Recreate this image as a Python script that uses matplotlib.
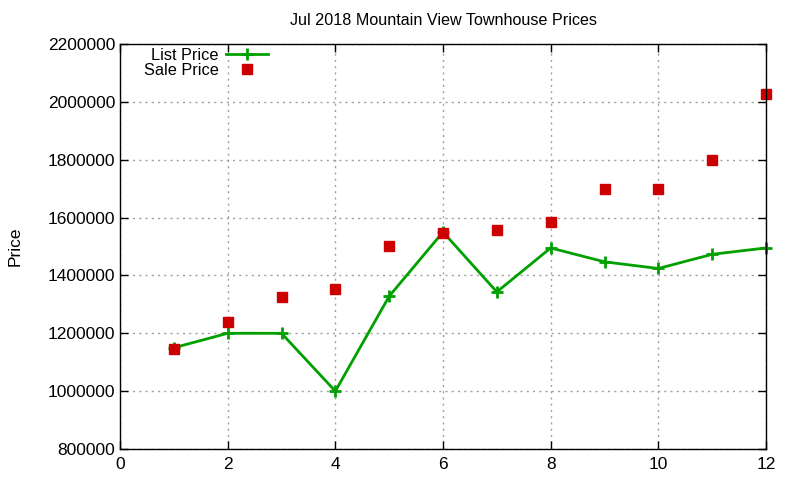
import matplotlib
matplotlib.use('Agg')
import matplotlib.pyplot as plt

plt.rcParams['font.family'] = ['Liberation Sans', 'DejaVu Sans']

months = [1, 2, 3, 4, 5, 6, 7, 8, 9, 10, 11, 12]
list_price = [1150000, 1200000, 1200000, 1000000, 1328000, 1550000,
              1343000, 1495000, 1447000, 1424000, 1473000, 1495000]
sale_price = [1145000, 1238000, 1326000, 1352000, 1502000, 1546000,
              1557000, 1584000, 1700000, 1700000, 1800000, 2027000]

fig = plt.figure(figsize=(8, 4.8), dpi=100)
ax = fig.add_axes([120 / 800, 1 - 449 / 480, 646 / 800, 405 / 480])

ax.plot(months, list_price, color='#00a000', linewidth=2, marker='+',
        markersize=8, markeredgewidth=2, label='List Price', clip_on=False)
ax.plot(months, sale_price, linestyle='none', color='#cc0000', marker='s',
        markersize=7, label='Sale Price', clip_on=False)

ax.set_xlim(0, 12)
ax.set_ylim(800000, 2200000)
ax.set_xticks(range(0, 13, 2))
ax.set_yticks(range(800000, 2200001, 200000))
ax.ticklabel_format(style='plain', axis='y', useOffset=False)
ax.tick_params(direction='in', top=True, right=True, labelsize=12.5, length=6, width=1)
ax.tick_params(axis='x', pad=6)
ax.grid(True, color='#a0a0a0', linestyle=(0, (1.5, 3)), linewidth=1)
for s in ax.spines.values():
    s.set_linewidth(1)

ax.set_title('Jul 2018 Mountain View Townhouse Prices', fontsize=11.6, pad=14)
ax.set_ylabel('Price', fontsize=12.5, labelpad=18)

ax.legend(loc='upper left', bbox_to_anchor=(144 / 800, 1 - 48 / 480),
          bbox_transform=fig.transFigure, frameon=False,
          markerfirst=False, fontsize=11.7, handlelength=2.6, borderaxespad=0,
          borderpad=0, labelspacing=0.0, handletextpad=0.45)

fig.savefig('out.png', dpi=100)
